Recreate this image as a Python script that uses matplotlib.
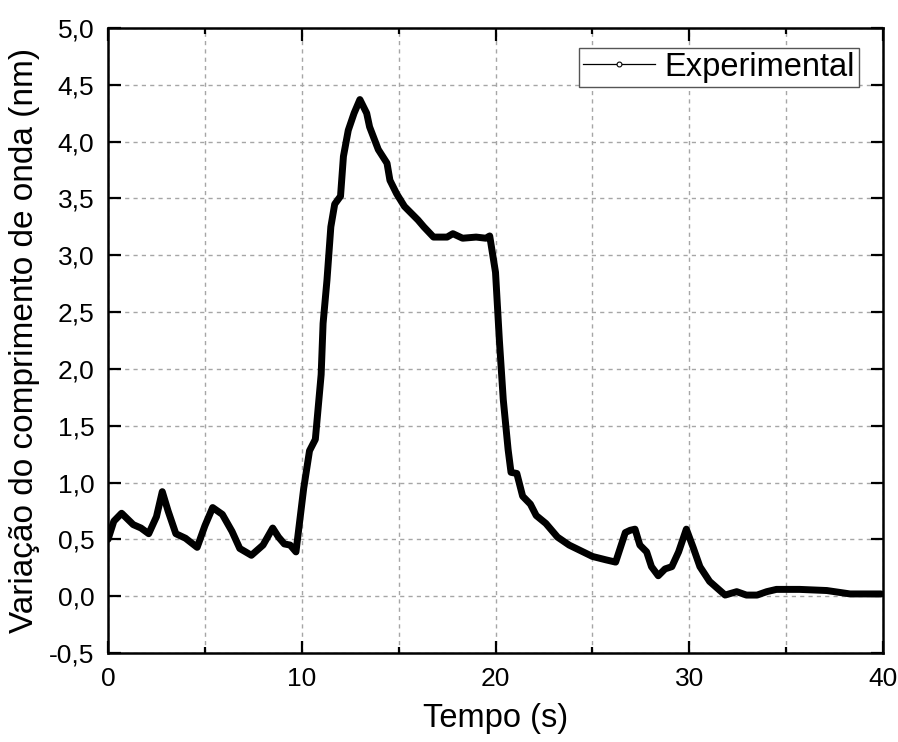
import matplotlib
matplotlib.use("Agg")
import matplotlib.pyplot as plt
from matplotlib.lines import Line2D
from matplotlib.ticker import MultipleLocator, FuncFormatter

plt.rcParams['font.family'] = ['Liberation Sans', 'DejaVu Sans']

# --- data ---
tempo = [0.0, 0.3, 0.7, 1.0, 1.3, 1.7, 2.1, 2.5, 2.8, 3.1, 3.5, 4.0, 4.6, 5.0,
         5.4, 5.9, 6.4, 6.8, 7.4, 8.0, 8.5, 8.8, 9.1, 9.4, 9.7, 10.1, 10.4, 10.7,
         11.0, 11.1, 11.3, 11.5, 11.7, 12.0, 12.15, 12.4, 12.7, 13.0, 13.35, 13.5,
         13.95, 14.4, 14.55, 14.9, 15.3, 16.0, 16.3, 16.8, 17.5, 17.8, 18.3, 19.0,
         19.5, 19.7, 20.0, 20.2, 20.4, 20.65, 20.8, 21.1, 21.4, 21.8, 22.1, 22.6,
         23.2, 23.8, 24.4, 25.0, 25.7, 26.2, 26.45, 26.7, 26.95, 27.2, 27.45, 27.8,
         28.05, 28.4, 28.75, 29.1, 29.45, 29.85, 30.2, 30.55, 31.05, 31.85, 32.45,
         32.95, 33.5, 34.0, 34.5, 35.7, 37.1, 38.3, 39.9]
variacao = [0.50, 0.66, 0.73, 0.68, 0.63, 0.60, 0.55, 0.70, 0.92, 0.75, 0.55, 0.51, 0.43, 0.62,
            0.78, 0.72, 0.57, 0.42, 0.36, 0.45, 0.60, 0.52, 0.46, 0.45, 0.39, 0.95, 1.28, 1.38,
            1.95, 2.40, 2.78, 3.25, 3.45, 3.52, 3.87, 4.10, 4.25, 4.37, 4.25, 4.13,
            3.93, 3.81, 3.66, 3.54, 3.43, 3.31, 3.25, 3.16, 3.16, 3.19, 3.15, 3.16,
            3.15, 3.17, 2.85, 2.25, 1.73, 1.29, 1.09, 1.08, 0.88, 0.81, 0.71, 0.64,
            0.52, 0.45, 0.40, 0.35, 0.32, 0.30, 0.43, 0.56, 0.58, 0.59, 0.45, 0.39,
            0.26, 0.18, 0.24, 0.26, 0.39, 0.59, 0.43, 0.26, 0.13, 0.01, 0.04,
            0.01, 0.01, 0.04, 0.06, 0.06, 0.05, 0.02, 0.02]

fig = plt.figure(figsize=(8.98, 7.42), dpi=100)
ax = fig.add_axes([0.1203, 0.1199, 0.863, 0.8424])

ax.plot(tempo, variacao, color='black', linewidth=5,
        solid_joinstyle='round', solid_capstyle='round', zorder=3)

ax.set_xlim(0, 40)
ax.set_ylim(-0.5, 5.0)
ax.xaxis.set_major_locator(MultipleLocator(10))
ax.xaxis.set_minor_locator(MultipleLocator(5))
ax.yaxis.set_major_locator(MultipleLocator(0.5))
ax.yaxis.set_major_formatter(FuncFormatter(lambda v, p: f"{v:.1f}".replace('.', ',')))

# --- ticks, spines and grid ---
ax.tick_params(which='both', direction='in', top=True, right=True, width=1.6)
ax.tick_params(which='major', length=9, labelsize=19, pad=10)
ax.tick_params(which='minor', length=4)
for s in ax.spines.values():
    s.set_linewidth(1.8)
ax.grid(True, which='both', axis='x', color='#a6a6a6', linestyle=(0, (3, 3)), linewidth=1.0)
ax.grid(True, which='major', axis='y', color='#a6a6a6', linestyle=(0, (3, 3)), linewidth=1.0)
ax.set_axisbelow(True)

ax.set_xlabel('Tempo (s)', fontsize=23.5, labelpad=9)
ax.set_ylabel('Variação do comprimento de onda (nm)', fontsize=24, labelpad=6)

handle = Line2D([], [], color='black', linewidth=0.9, marker='o', markersize=3.5,
                markerfacecolor='white', markeredgecolor='black', markeredgewidth=0.8)
leg = ax.legend([handle], ['Experimental'], loc='upper right', fontsize=23.5,
                bbox_to_anchor=(0.969, 0.968), fancybox=False, framealpha=1,
                edgecolor='#555555', handlelength=2.2, handletextpad=0.3,
                borderpad=0.12, borderaxespad=0.0, numpoints=1)
leg.get_frame().set_linewidth(1.0)

fig.savefig('out.png', dpi=100)
